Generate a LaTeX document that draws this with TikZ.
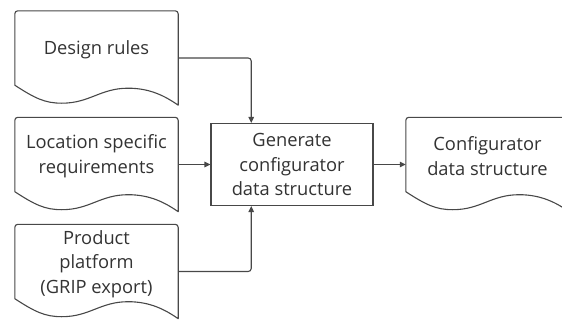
\documentclass[tikz,border=0pt]{standalone}
\usepackage{fontspec}
\setmainfont{Open Sans}
\usetikzlibrary{arrows.meta,calc}
\definecolor{ink}{HTML}{484848}
\definecolor{txt}{HTML}{333333}

\tikzset{
  labelfont/.style={font=\fontsize{18.3}{24.5}\selectfont, text=txt},
  docbox/.style={minimum width=163pt, minimum height=94pt, inner sep=0pt, draw=none},
  doclabel/.style={labelfont, align=center, inner sep=0pt},
  procbox/.style={draw=ink, line width=1.1pt, minimum width=162pt, minimum height=82pt,
    inner sep=0pt, align=center, labelfont},
  outline/.style={draw=ink, line width=1.1pt, line join=round},
  flow/.style={draw=ink, line width=1.1pt, rounded corners=3pt,
    -{Triangle[length=6pt,width=5.5pt]}},
}

% document outline: rounded top corners, wavy bottom edge
\newcommand\docoutline[1]{%
  \draw[outline] ([yshift=20pt]#1.south west) [rounded corners=3pt] -- (#1.north west)
    -- (#1.north east) [sharp corners] -- (#1.south east)
    .. controls ([shift={(-13pt,9pt)}]#1.south east) and ([shift={(-28pt,17pt)}]#1.south east)
    .. ([shift={(-50pt,17pt)}]#1.south east)
    .. controls ([shift={(-78pt,17pt)}]#1.south east) and ([shift={(75pt,2pt)}]#1.south west)
    .. ([shift={(47pt,2pt)}]#1.south west)
    .. controls ([shift={(30pt,2pt)}]#1.south west) and ([shift={(20pt,7pt)}]#1.south west)
    .. ([yshift=20pt]#1.south west) -- cycle;}

\begin{document}
\begin{tikzpicture}[x=1pt, y=-1pt]
  \clip (0,0) rectangle (562,327);
  \fill[white] (0,0) rectangle (562,327);

  % inputs
  \node[docbox] (rules) at (96.5,58) {};
  \docoutline{rules}
  \node[doclabel] (rules-text) at ([yshift=8pt]rules.center) {Design rules};

  \node[docbox] (loc) at (96.5,164.5) {};
  \docoutline{loc}
  \node[doclabel] (loc-text) at ([yshift=8.5pt]loc.center) {Location specific\\requirements};

  \node[docbox] (prod) at (96.5,271.5) {};
  \docoutline{prod}
  \node[doclabel] (prod-text) at ([yshift=7.5pt]prod.center) {Product\\platform\\(GRIP export)};

  % process
  \node[procbox] (gen) at (292,164.5) {Generate\\configurator\\data structure};

  % output
  \node[docbox] (out) at (487.5,164.5) {};
  \docoutline{out}
  \node[doclabel] (out-text) at ([yshift=8.5pt]out.center) {Configurator\\data structure};

  % connectors
  \coordinate (gen-top) at ($(gen.north west)!0.25!(gen.north east)$);
  \coordinate (gen-bot) at ($(gen.south west)!0.25!(gen.south east)$);
  \draw[flow] (rules.east) -| (gen-top);
  \draw[flow] (prod.east) -| (gen-bot);
  \draw[flow] (loc.east) -- (loc.east -| gen.west);
  \draw[flow] (gen.east) -- (gen.east -| out.west);
\end{tikzpicture}
\end{document}
